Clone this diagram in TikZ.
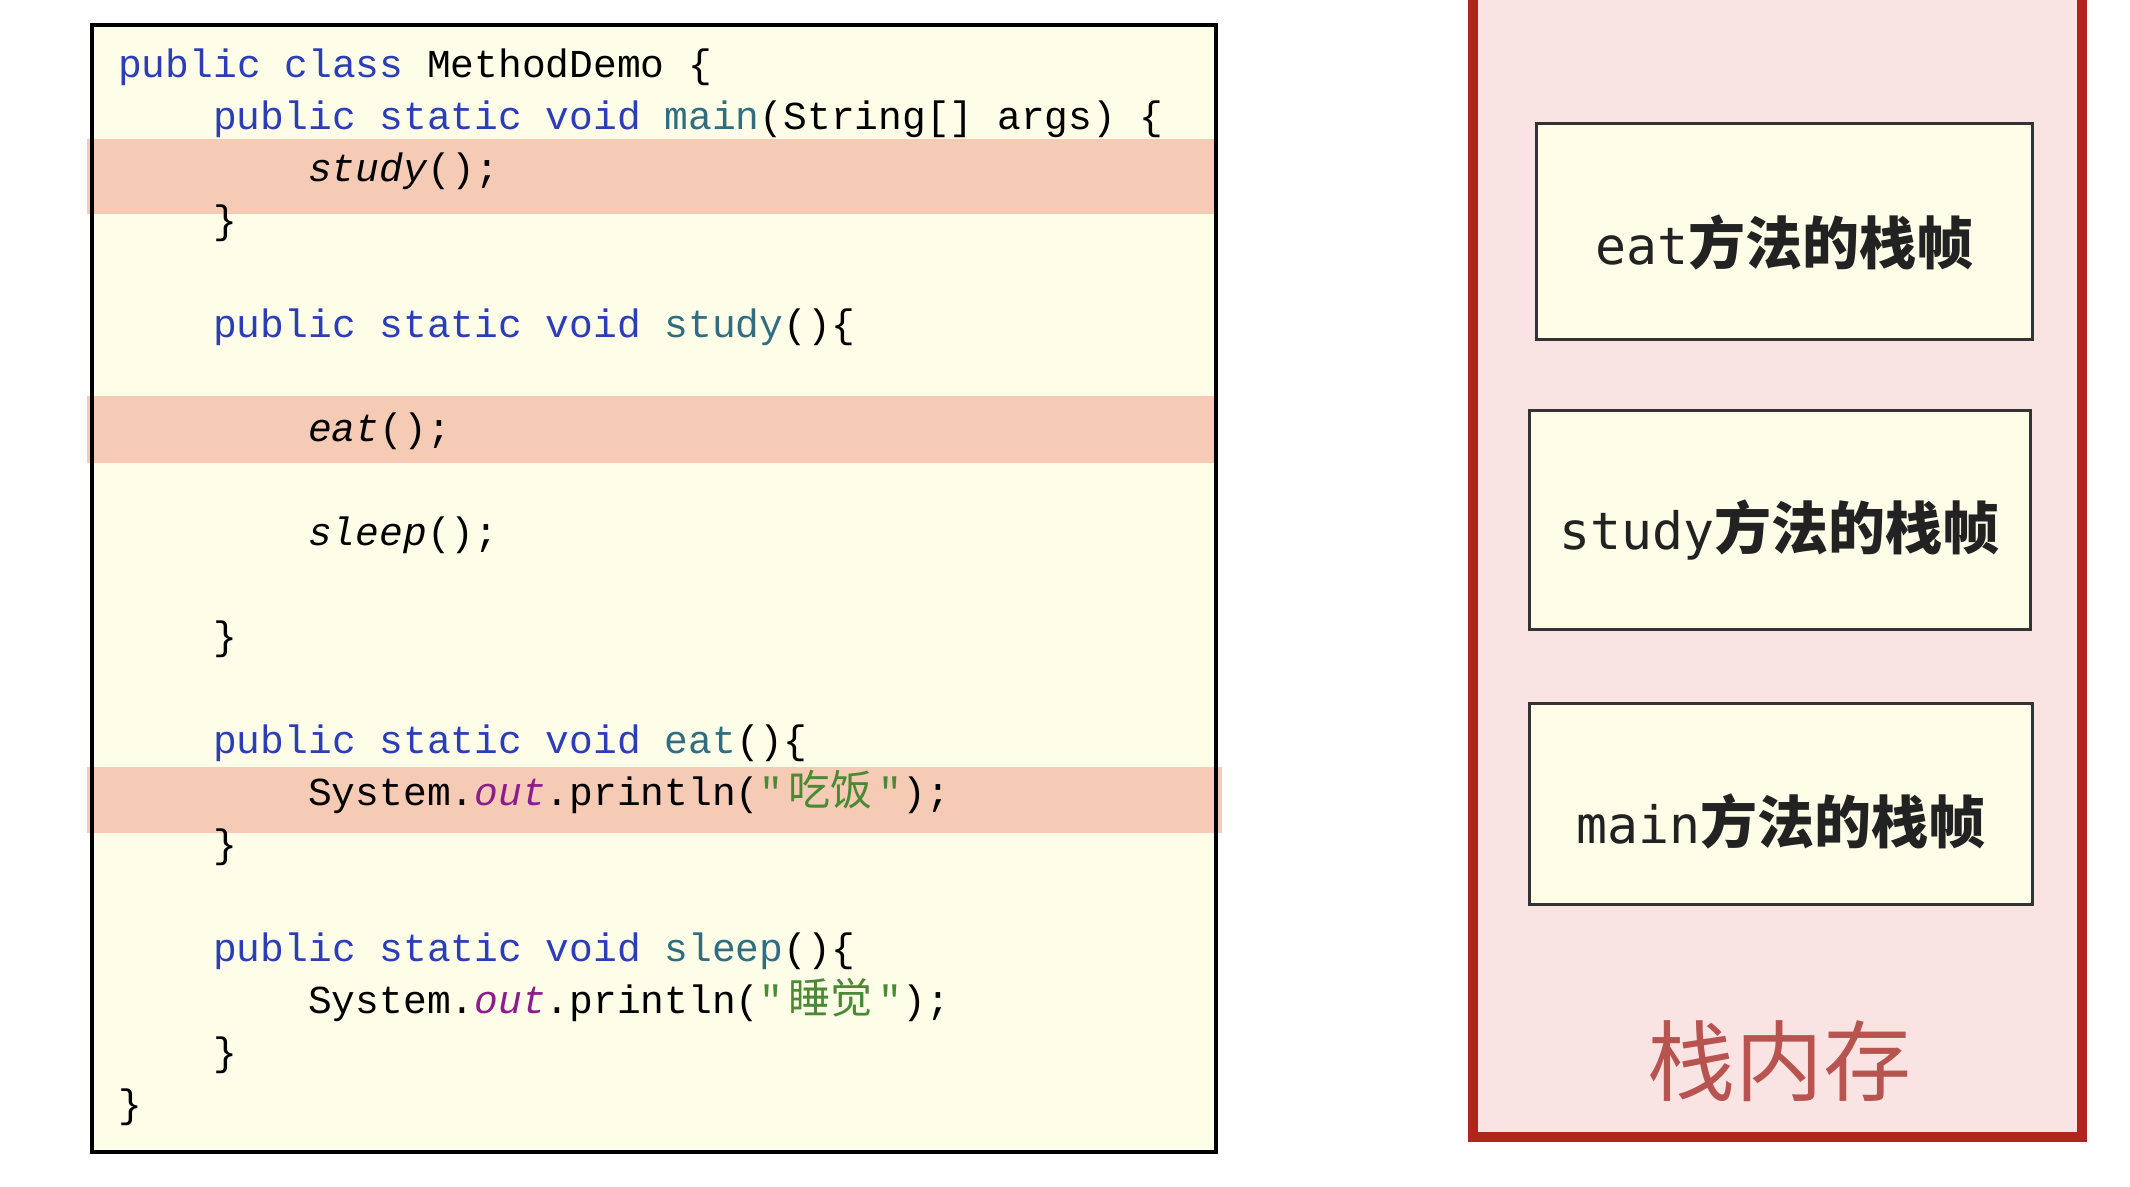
\documentclass[tikz,border=0pt]{standalone}
\usepackage{fontspec}
\usepackage{xcolor}
\usepackage{tikz}
\setmonofont{Liberation Mono}
\newfontfamily\framefont{DejaVu Sans Mono}
\newfontfamily\cjk{Noto Sans CJK SC}
\definecolor{ivory}{HTML}{FEFDE7}
\definecolor{hilite}{HTML}{F6CBB6}
\definecolor{kwblue}{HTML}{2B3DB8}
\definecolor{methteal}{HTML}{2F6E82}
\definecolor{strgreen}{HTML}{4B8A34}
\definecolor{fldpurple}{HTML}{8C1D8C}
\definecolor{stackfill}{HTML}{FAE3E3}
\definecolor{stackline}{HTML}{B0261E}
\definecolor{stacktext}{HTML}{B85450}
\definecolor{framegray}{HTML}{333333}
\definecolor{labelgray}{HTML}{222222}
\newcommand{\kwd}[1]{\textcolor{kwblue}{#1}}
\newcommand{\mth}[1]{\textcolor{methteal}{#1}}
\newcommand{\fld}[1]{\textcolor{fldpurple}{\itshape #1}}
\newcommand{\zhstr}[1]{\textcolor{strgreen}{"\makebox[95pt]{\cjk\fontsize{42}{42}\selectfont #1}"}}
\newcommand{\framelabel}[1]{{\framefont\fontsize{51.5}{60}\selectfont #1}{\cjk\bfseries\fontsize{57}{60}\selectfont 方法的栈帧}}
\tikzset{
  codebox/.style={draw=black, line width=3.5pt},
  band/.style={fill=hilite},
  codeline/.style={anchor=base west, inner sep=0pt, font=\ttfamily\fontsize{39.6}{52}\selectfont},
  frame/.style={draw=framegray, line width=3pt, fill=ivory, inner sep=0pt},
  framelab/.style={text=labelgray, inner sep=0pt},
  stackedge/.style={draw=stackline, line width=10pt},
  stacktitle/.style={text=stacktext, inner sep=0pt, font=\cjk\fontsize{88}{88}\selectfont}
}

\begin{document}
\begin{tikzpicture}[x=1pt, y=-1pt]
  \useasboundingbox (0,0) rectangle (2130,1186);

  % code panel
  \fill[ivory] (92,25) rectangle (1216,1152);
  \fill[band] (87,139) rectangle (1216,214);
  \fill[band] (87,396) rectangle (1216,463);
  \fill[band] (87,767) rectangle (1222,833);
  \draw[codebox] (92,25) rectangle (1216,1152);

  \node[codeline] (l0) at (118,77) {\kwd{public class} MethodDemo \{};
  \node[codeline] (l1) at (213,129) {\kwd{public static void} \mth{main}(String[] args) \{};
  \node[codeline] (l2) at (308,181) {\textit{study}();};
  \node[codeline] (l3) at (213,233) {\}};
  \node[codeline] (l5) at (213,337) {\kwd{public static void} \mth{study}()\{};
  \node[codeline] (l7) at (308,441) {\textit{eat}();};
  \node[codeline] (l9) at (308,545) {\textit{sleep}();};
  \node[codeline] (l11) at (213,649) {\}};
  \node[codeline] (l13) at (213,753) {\kwd{public static void} \mth{eat}()\{};
  \node[codeline] (l14) at (308,805) {System.\fld{out}.println(\zhstr{吃饭});};
  \node[codeline] (l15) at (213,857) {\}};
  \node[codeline] (l17) at (213,961) {\kwd{public static void} \mth{sleep}()\{};
  \node[codeline] (l18) at (308,1013) {System.\fld{out}.println(\zhstr{睡觉});};
  \node[codeline] (l19) at (213,1065) {\}};
  \node[codeline] (l20) at (118,1117) {\}};

  % stack memory
  \fill[stackfill] (1473,-10) rectangle (2082,1137);
  \draw[stackedge] (1473,-10) |- (2082,1137) -- (2082,-10);

  \node[frame, minimum width=496pt, minimum height=216pt] (eatf) at (1784,231) {};
  \node[frame, minimum width=501pt, minimum height=219pt] (studyf) at (1779.5,519.5) {};
  \node[frame, minimum width=503pt, minimum height=201pt] (mainf) at (1780.5,803.5) {};

  \node[framelab] (eatlab) at ([yshift=-11pt]eatf.center) {\framelabel{eat}};
  \node[framelab] (studylab) at ([yshift=-10pt]studyf.center) {\framelabel{study}};
  \node[framelab] (mainlab) at ([yshift=-18pt]mainf.center) {\framelabel{main}};

  \node[stacktitle] (stacklab) at (1779,1061) {栈内存};
\end{tikzpicture}
\end{document}
